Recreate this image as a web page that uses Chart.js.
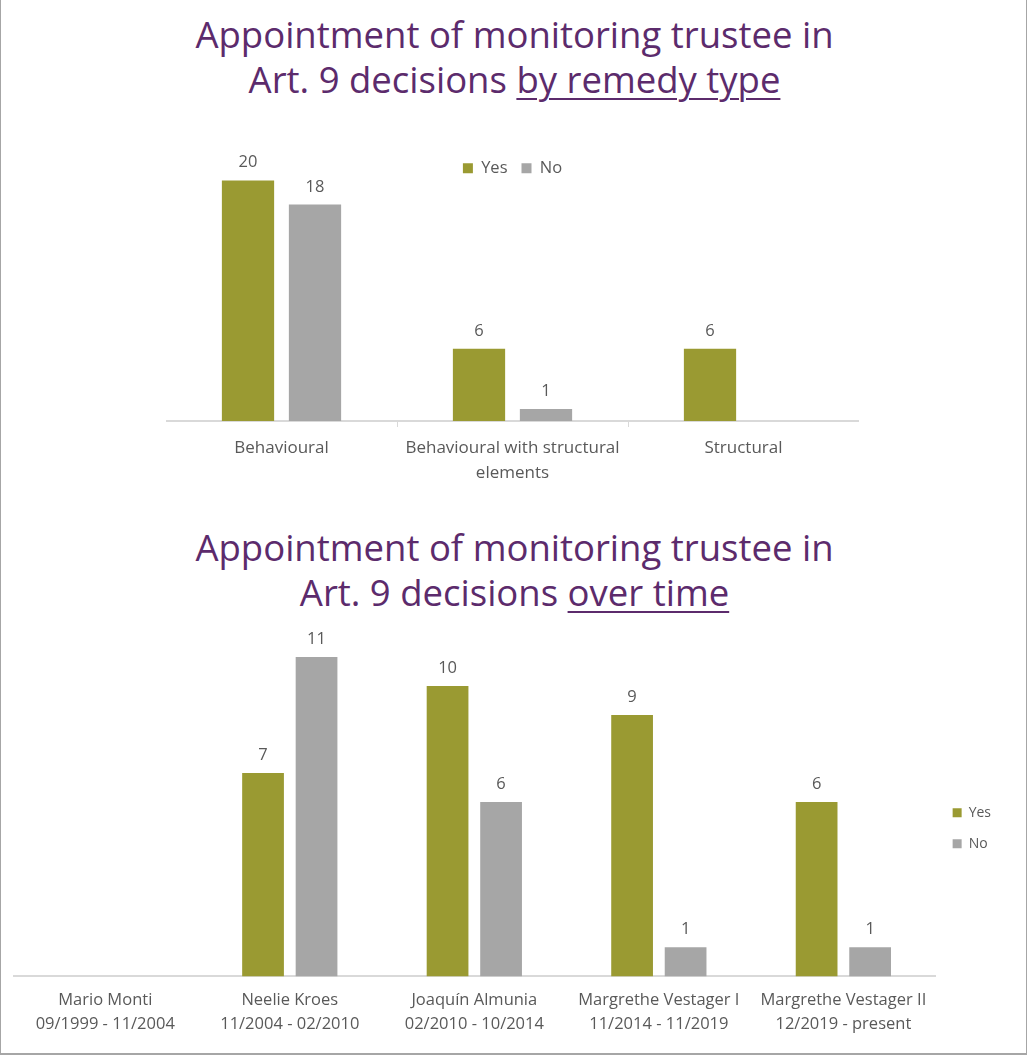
<!DOCTYPE html>
<html>
<head>
<meta charset="utf-8">
<script src="https://cdn.jsdelivr.net/npm/chart.js@4"></script>
<style>
  html, body { margin: 0; padding: 0; background: #fff; }
  #frame { position: relative; width: 1027px; height: 1055px; box-sizing: border-box; border: 1px solid #a6a6a6; border-top: none; border-bottom-width: 2px; overflow: hidden; }
  .title { position: absolute; left: 0; width: 1027px; text-align: center; font-family: "Open Sans", sans-serif; font-size: 36.5px; line-height: 45px; color: #5c2b6c; }
  .title u { text-decoration-thickness: 2px; text-underline-offset: 5px; }
  .box { position: absolute; }
</style>
</head>
<body>
<div id="frame">
  <div class="title" style="top:12px">Appointment of monitoring trustee in<br>Art. 9 decisions <u>by remedy type</u></div>
  <div class="box" style="left:165px; top:146px; width:693px; height:349px"><canvas id="c1"></canvas></div>
  <div class="title" style="top:525px">Appointment of monitoring trustee in<br>Art. 9 decisions <u>over time</u></div>
  <div class="box" style="left:12px; top:620px; width:988px; height:428px"><canvas id="c2"></canvas></div>
</div>
<script>
// remedy type chart
const remedyLabels = ['Behavioural', ['Behavioural with structural', 'elements'], 'Structural'];
const remedyYes = [20, 6, 6];
const remedyNo = [18, 1, null];

// over time chart
const periodLabels = [
  ['Mario Monti', '09/1999 - 11/2004'],
  ['Neelie Kroes', '11/2004 - 02/2010'],
  ['Joaquín Almunia', '02/2010 - 10/2014'],
  ['Margrethe Vestager I', '11/2014 - 11/2019'],
  ['Margrethe Vestager II', '12/2019 - present']
];
const periodYes = [null, 7, 10, 9, 6];
const periodNo = [null, 11, 6, 1, 1];

const OLIVE = '#9a9a32';
const GREY = '#a6a6a6';
const TXT = '#595959';
const FONT = '"Open Sans", sans-serif';

// draws the numbers above each bar
const valueLabels = {
  id: 'valueLabels',
  afterDatasetsDraw(chart) {
    const ctx = chart.ctx;
    ctx.save();
    ctx.font = '16.5px ' + FONT;
    ctx.fillStyle = TXT;
    ctx.textAlign = 'center';
    ctx.textBaseline = 'alphabetic';
    chart.data.datasets.forEach((ds, i) => {
      chart.getDatasetMeta(i).data.forEach((bar, j) => {
        const v = ds.data[j];
        if (v === null || v === undefined) return;
        ctx.fillText(String(v), bar.x, bar.y - 13);
      });
    });
    ctx.restore();
  }
};

function makeChart(id, labels, yes, no, opts) {
  return new Chart(document.getElementById(id), {
    type: 'bar',
    data: {
      labels: labels,
      datasets: [
        { label: 'Yes', data: yes, backgroundColor: OLIVE, clip: false },
        { label: 'No', data: no, backgroundColor: GREY, clip: false }
      ]
    },
    options: {
      responsive: true,
      maintainAspectRatio: false,
      animation: false,
      layout: { padding: opts.padding },
      datasets: { bar: { categoryPercentage: 0.58, barPercentage: 0.78 } },
      plugins: {
        tooltip: { enabled: false },
        legend: opts.legend
      },
      scales: {
        y: { display: false, min: 0, max: opts.max },
        x: {
          grid: opts.grid,
          border: { color: '#d9d9d9', width: 2 },
          ticks: { color: TXT, padding: opts.tickPad, font: { family: FONT, size: opts.tickSize, lineHeight: opts.lineH } }
        }
      }
    },
    plugins: [valueLabels]
  });
}

makeChart('c1', remedyLabels, remedyYes, remedyNo, {
  max: 19.5,
  padding: { top: 0 },
  tickPad: 9,
  tickSize: 17,
  lineH: 1.47,
  grid: {
    display: true, drawOnChartArea: false, drawTicks: true, tickLength: 6, offset: true,
    color: c => (c.index === 0 || c.index === remedyLabels.length) ? 'rgba(0,0,0,0)' : '#d9d9d9'
  },
  legend: {
    position: 'top',
    labels: { color: TXT, boxWidth: 10, boxHeight: 10, padding: 14, font: { family: FONT, size: 16.5 } }
  }
});

makeChart('c2', periodLabels, periodYes, periodNo, {
  max: 12,
  padding: { top: 8 },
  tickPad: 12,
  tickSize: 16.5,
  lineH: 1.45,
  grid: { display: false, drawTicks: false },
  legend: {
    position: 'right',
    align: 'start',
    // empty title only pushes the legend items down to the middle
    title: { display: true, text: ' ', font: { size: 14 }, padding: { top: 144, bottom: 0 } },
    labels: { color: TXT, boxWidth: 9, boxHeight: 9, padding: 17, font: { family: FONT, size: 14 } }
  }
});
</script>
</body>
</html>
